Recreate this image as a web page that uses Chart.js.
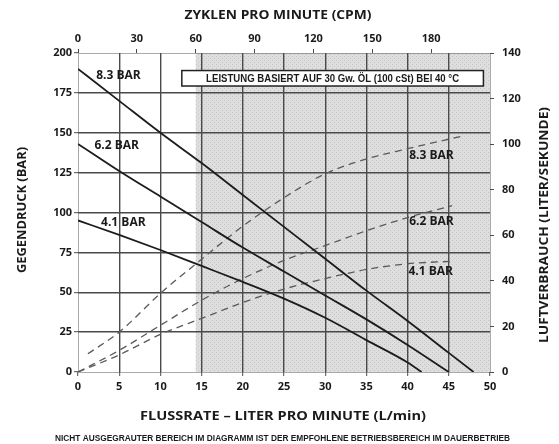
<!DOCTYPE html>
<html>
<head>
<meta charset="utf-8">
<script src="https://cdn.jsdelivr.net/npm/chart.js@4.4.0/dist/chart.umd.min.js"></script>
<style>
  html, body { margin: 0; padding: 0; background: #fff; }
  #chart { display: block; }
</style>
</head>
<body>
<canvas id="chart" width="559" height="444"></canvas>
<script>
// Werte
const flowTicks = [0, 5, 10, 15, 20, 25, 30, 35, 40, 45, 50];
const cpmTicks = [0, 30, 60, 90, 120, 150, 180];
const cpmMax = 210;          // 50 L/min entspricht ca. 210 CPM
const cpmShadeStart = 60;    // grauer Bereich ab 60 CPM
const pressureTicks = [0, 25, 50, 75, 100, 125, 150, 175, 200];
const airTicks = [0, 20, 40, 60, 80, 100, 120, 140];

const seriesNames = ['8.3 BAR', '6.2 BAR', '4.1 BAR'];

// Gegendruck (BAR) ueber Flussrate (L/min)
const flow83 = [0, 5, 10, 15, 20, 25, 30, 35, 40, 45, 48];
const bar83 = [190, 170, 150, 131, 111, 91, 71, 51, 32, 12, 0];
const flow62 = [0, 5, 10, 15, 20, 25, 30, 35, 40, 45];
const bar62 = [143, 126, 110, 94, 78, 63, 48, 33, 17, 0];
const flow41 = [0, 5, 10, 15, 20, 25, 30, 35, 40, 41.7];
const bar41 = [95, 86, 76.5, 66.5, 56.5, 46, 34, 20, 6, 0];

// Luftverbrauch (Liter/Sekunde) ueber Flussrate
const airFlow83 = [1.2, 5, 10, 15, 20, 25, 30, 35, 40, 46.6];
const air83 = [8, 17.5, 34.5, 49.5, 64, 76.5, 87, 93.5, 98, 103.5];
const airFlow62 = [0, 5, 10, 15, 20, 25, 30, 35, 40, 45.4];
const air62 = [0, 9.5, 20.5, 31.5, 41, 49, 55.5, 62, 67.8, 73];
const airFlow41 = [0, 5, 10, 15, 20, 25, 30, 35, 40, 45.5];
const air41 = [0, 7.5, 16.5, 23.5, 30.5, 36.4, 41, 45, 47.5, 48.6];

const toPoints = (xs, ys) => xs.map((x, i) => ({ x: x, y: ys[i] }));

// Beschriftungen der Kurven (Datenkoordinaten)
const curveLabels = [
  { text: seriesNames[0], x: 2.2, y: 185.6, axis: 'y' },
  { text: seriesNames[1], x: 2.0, y: 141.7, axis: 'y' },
  { text: seriesNames[2], x: 2.8, y: 93.6, axis: 'y' },
  { text: seriesNames[0], x: 40.2, y: 95.2, axis: 'y2' },
  { text: seriesNames[1], x: 40.2, y: 66, axis: 'y2' },
  { text: seriesNames[2], x: 40.1, y: 44, axis: 'y2' }
];

// Punktraster fuer den grauen Bereich
const pat = document.createElement('canvas');
pat.width = 4; pat.height = 4;
const pc = pat.getContext('2d');
pc.fillStyle = '#dedede'; pc.fillRect(0, 0, 4, 4);
pc.fillStyle = '#c4c4c4'; pc.fillRect(0, 0, 1, 1); pc.fillRect(2, 2, 1, 1);

function fitText(ctx, text, x, y, width, font, rot) {
  ctx.save();
  ctx.translate(x, y);
  if (rot) ctx.rotate(rot);
  ctx.font = font;
  const w = ctx.measureText(text).width;
  ctx.scale(width / w, 1);
  ctx.textAlign = 'center';
  ctx.textBaseline = 'middle';
  ctx.fillStyle = '#1a1a1a';
  ctx.fillText(text, 0, 0);
  ctx.restore();
}

const backdrop = {
  id: 'backdrop',
  beforeDraw(chart) {
    const { ctx, chartArea: a, scales } = chart;
    ctx.save();
    ctx.fillStyle = '#fff';
    ctx.fillRect(0, 0, chart.width, chart.height);
    const x0 = scales.x2.getPixelForValue(cpmShadeStart);
    ctx.fillStyle = ctx.createPattern(pat, 'repeat');
    ctx.fillRect(x0, a.top, a.right - x0, a.bottom - a.top);
    ctx.restore();
  },
  beforeDatasetsDraw(chart) {
    // gepunkteter Rahmen
    const { ctx, chartArea: a } = chart;
    ctx.save();
    ctx.strokeStyle = '#555';
    ctx.lineWidth = 1;
    ctx.setLineDash([1, 1]);
    ctx.strokeRect(a.left + 0.5, a.top + 0.5, a.right - a.left, a.bottom - a.top);
    ctx.restore();
  },
  afterDraw(chart) {
    const { ctx, scales } = chart;
    const titleFont = 'bold 13px "Open Sans", sans-serif';
    const narrowFont = 'bold 10px "Liberation Sans", Arial, sans-serif';

    // Hinweisbox
    const bx0 = scales.x.getPixelForValue(12.6), bx1 = scales.x.getPixelForValue(49.2);
    const by0 = scales.y.getPixelForValue(189), by1 = scales.y.getPixelForValue(179.3);
    ctx.save();
    ctx.fillStyle = '#fff';
    ctx.fillRect(bx0, by0, bx1 - bx0, by1 - by0);
    ctx.strokeStyle = '#222';
    ctx.lineWidth = 1.5;
    ctx.strokeRect(bx0, by0, bx1 - bx0, by1 - by0);
    ctx.restore();
    fitText(ctx, 'LEISTUNG BASIERT AUF 30 Gw. ÖL (100 cSt) BEI 40 °C', (bx0 + bx1) / 2, (by0 + by1) / 2 + 0.5, 253, narrowFont);

    // Kurvenbeschriftungen
    ctx.save();
    ctx.font = 'bold 12px "Open Sans", sans-serif';
    ctx.fillStyle = '#1a1a1a';
    ctx.textAlign = 'left';
    ctx.textBaseline = 'middle';
    curveLabels.forEach(l => {
      ctx.fillText(l.text, scales.x.getPixelForValue(l.x), scales[l.axis].getPixelForValue(l.y));
    });
    ctx.restore();

    // Achsentitel
    fitText(ctx, 'ZYKLEN PRO MINUTE (CPM)', 278, 15, 187, titleFont);
    fitText(ctx, 'FLUSSRATE – LITER PRO MINUTE (L/min)', 283, 416, 286, titleFont);
    fitText(ctx, 'GEGENDRUCK (BAR)', 22.5, 210, 126, titleFont, -Math.PI / 2);
    fitText(ctx, 'LUFTVERBRAUCH (LITER/SEKUNDE)', 544, 225, 236, titleFont, -Math.PI / 2);
    fitText(ctx, 'NICHT AUSGEGRAUTER BEREICH IM DIAGRAMM IST DER EMPFOHLENE BETRIEBSBEREICH IM DAUERBETRIEB', 282.5, 438, 455, 'bold 9.5px "Liberation Sans", Arial, sans-serif');
  }
};

const gridColor = '#4a4a4a';
const tickFont = { family: '"Open Sans", sans-serif', size: 11, weight: 'bold' };
const edgeAware = (lo, hi) => ctx => (ctx.tick && (ctx.tick.value === lo || ctx.tick.value === hi)) ? 'rgba(0,0,0,0)' : gridColor;
const noBorder = { display: false };

const solid = { borderColor: '#1c1c1c', borderWidth: 1.8, pointRadius: 0, cubicInterpolationMode: 'monotone', yAxisID: 'y' };
const dashed = { borderColor: '#5a5a5a', borderWidth: 1.3, borderDash: [7, 5], pointRadius: 0, cubicInterpolationMode: 'monotone', yAxisID: 'y2' };

new Chart(document.getElementById('chart'), {
  type: 'line',
  data: {
    datasets: [
      Object.assign({ label: seriesNames[0], data: toPoints(flow83, bar83) }, solid),
      Object.assign({ label: seriesNames[1], data: toPoints(flow62, bar62) }, solid),
      Object.assign({ label: seriesNames[2], data: toPoints(flow41, bar41) }, solid),
      Object.assign({ label: seriesNames[0] + ' Luft', data: toPoints(airFlow83, air83) }, dashed),
      Object.assign({ label: seriesNames[1] + ' Luft', data: toPoints(airFlow62, air62) }, dashed),
      Object.assign({ label: seriesNames[2] + ' Luft', data: toPoints(airFlow41, air41) }, dashed)
    ]
  },
  options: {
    responsive: false,
    animation: false,
    devicePixelRatio: 1,
    layout: { padding: 0 },
    plugins: { legend: { display: false }, tooltip: { enabled: false } },
    scales: {
      x: {
        type: 'linear', position: 'bottom', min: 0, max: 50,
        afterBuildTicks: s => { s.ticks = flowTicks.map(v => ({ value: v })); },
        afterFit: s => { s.height = 72; },
        ticks: { font: tickFont, color: '#1a1a1a', padding: 4, maxRotation: 0 },
        grid: { color: edgeAware(0, 50), lineWidth: 1.4, tickColor: gridColor, tickLength: 4, tickWidth: 1 },
        border: noBorder
      },
      x2: {
        type: 'linear', position: 'top', min: 0, max: cpmMax,
        afterBuildTicks: s => { s.ticks = cpmTicks.map(v => ({ value: v })); },
        afterFit: s => { s.height = 53; },
        ticks: { font: tickFont, color: '#1a1a1a', padding: 4, maxRotation: 0 },
        grid: { drawOnChartArea: false, color: gridColor, tickLength: 4, tickWidth: 1 },
        border: noBorder
      },
      y: {
        type: 'linear', position: 'left', min: 0, max: 200,
        afterBuildTicks: s => { s.ticks = pressureTicks.map(v => ({ value: v })); },
        afterFit: s => { s.width = 78; },
        ticks: { font: tickFont, color: '#1a1a1a', padding: 2 },
        grid: { color: edgeAware(0, 200), lineWidth: 1.4, tickColor: gridColor, tickLength: 4, tickWidth: 1 },
        border: noBorder
      },
      y2: {
        type: 'linear', position: 'right', min: 0, max: 140,
        afterBuildTicks: s => { s.ticks = airTicks.map(v => ({ value: v })); },
        afterFit: s => { s.width = 69; },
        ticks: { font: tickFont, color: '#1a1a1a', padding: 8 },
        grid: { drawOnChartArea: false, color: gridColor, tickLength: 4, tickWidth: 1 },
        border: noBorder
      }
    }
  },
  plugins: [backdrop]
});
</script>
</body>
</html>
